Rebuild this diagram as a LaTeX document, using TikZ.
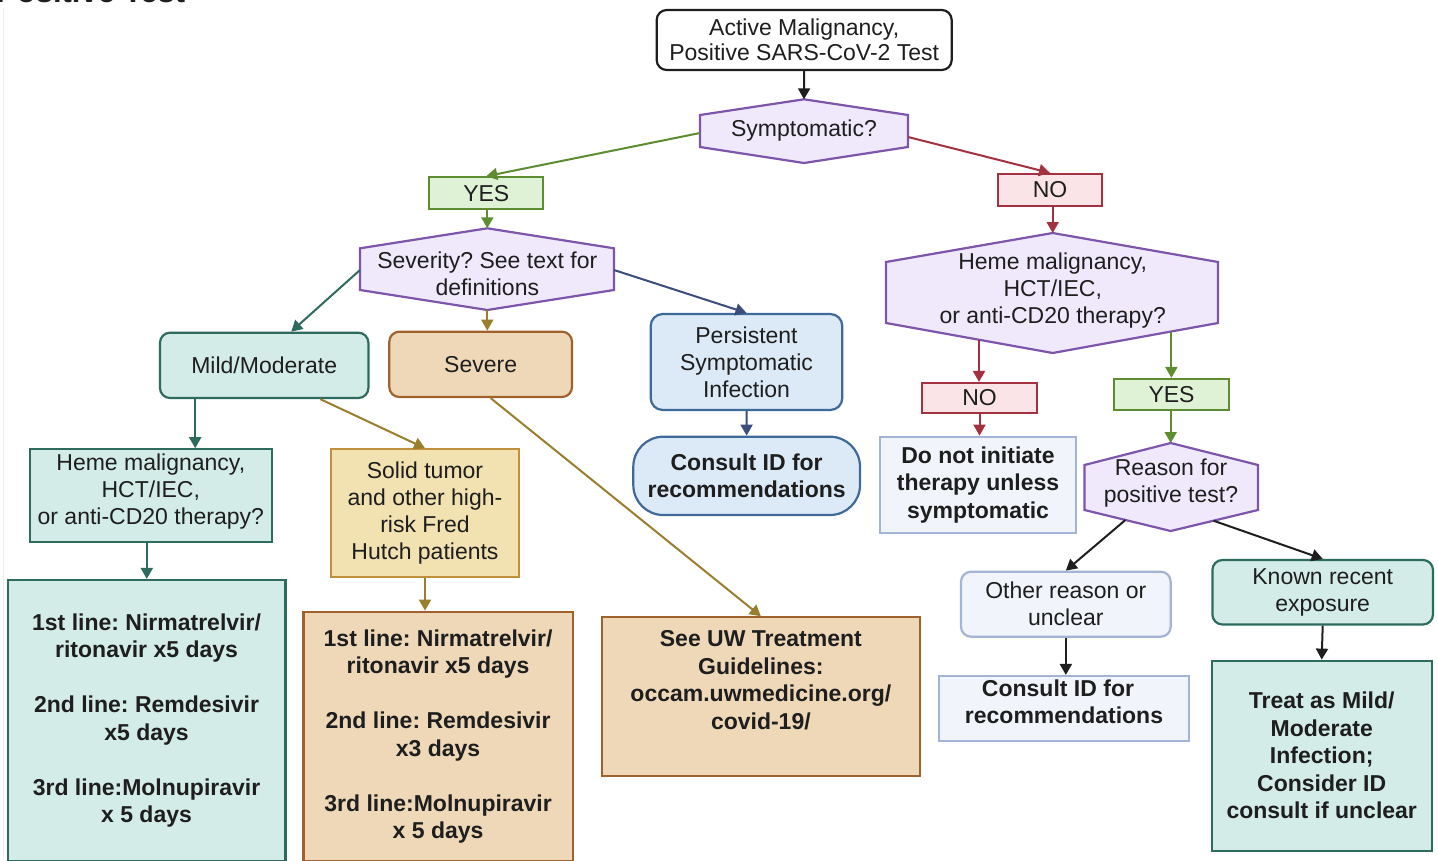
\documentclass[tikz,border=0pt]{standalone}
\usepackage{fontspec}
\setmainfont{Liberation Sans}
\usetikzlibrary{arrows.meta}
\frenchspacing
\definecolor{tealB}{HTML}{2E6B5F}
\definecolor{tealF}{HTML}{D3ECE7}
\definecolor{brownB}{HTML}{A0622D}
\definecolor{brownF}{HTML}{EED8B8}
\definecolor{goldB}{HTML}{C0903C}
\definecolor{goldF}{HTML}{F2E2B2}
\definecolor{goldA}{HTML}{9B7D2E}
\definecolor{blueB}{HTML}{3D6A99}
\definecolor{blueF}{HTML}{DCEAF8}
\definecolor{navyA}{HTML}{3B4D7C}
\definecolor{greyB}{HTML}{A3B4D4}
\definecolor{greyF}{HTML}{F1F4FA}
\definecolor{greenB}{HTML}{5E8C31}
\definecolor{greenF}{HTML}{DFF2D6}
\definecolor{redB}{HTML}{A33140}
\definecolor{redF}{HTML}{FBE4E8}
\definecolor{purpB}{HTML}{7D55AA}
\definecolor{purpF}{HTML}{EFE9FB}
\definecolor{ink}{HTML}{1E1E1E}
\begin{document}
\begin{tikzpicture}[x=1pt,y=-1pt,
  reg/.style={font=\fontsize{23}{27}\selectfont},
  bld/.style={font=\fontsize{23}{27.5}\selectfont\bfseries},
  corners/.style n args={4}{at={({(#1+#3)/2},{(#2+#4)/2})},minimum width={(#3)-(#1)},minimum height={(#4)-(#2)}},
  box/.style={draw,line width=2.2pt,inner sep=0pt,align=center,text=ink},
  tealbox/.style={box,draw=tealB,fill=tealF},
  brownbox/.style={box,draw=brownB,fill=brownF},
  goldbox/.style={box,draw=goldB,fill=goldF},
  bluebox/.style={box,draw=blueB,fill=blueF},
  greybox/.style={box,draw=greyB,fill=greyF},
  yesbox/.style={box,reg,draw=greenB,fill=greenF},
  nobox/.style={box,reg,draw=redB,fill=redF},
  hexd/.style={draw=purpB,fill=purpF,line width=2.2pt,line join=miter},
  htext/.style={reg,align=center,inner sep=0pt,text=ink},
  arr/.style={line width=2pt,-{Triangle[length=11pt,width=12pt]}},
]
\fill[white] (0,0) rectangle (1438,860);
\path[use as bounding box] (0,0) rectangle (1438,860);
\draw[black!7,line width=1pt] (3.5,8) -- (3.5,860);
\node[anchor=base west,font=\fontsize{31}{31}\selectfont\bfseries,inner sep=0pt,text=ink] (title) at (-4,2) {Positive Test};

% boxes
\node[box,font=\fontsize{23}{25}\selectfont,draw=ink,fill=white,rounded corners=10pt,corners={656.7}{10}{951.7}{70}] (start) {Active Malignancy,\\Positive SARS-CoV-2 Test};
\node[yesbox,corners={429.3}{177.3}{543.3}{209.3}] (yes1) {YES};
\node[nobox,corners={998}{174}{1102}{205.7}] (no1) {NO};
\node[tealbox,reg,rounded corners=10pt,corners={160}{332.7}{368.4}{398}] (mild) {Mild/Moderate};
\node[brownbox,reg,rounded corners=10pt,corners={389.3}{331.7}{572}{397}] (severe) {Severe};
\node[bluebox,reg,rounded corners=12pt,corners={650.7}{314}{842.3}{410}] (pers) {Persistent\\Symptomatic\\Infection};
\node[bluebox,bld,rounded corners=30pt,corners={633.3}{436.7}{860}{515}] (cons1) {Consult ID for\\recommendations};
\node[tealbox,reg,corners={29.6}{449.3}{272}{542.3}] (hemeL) {Heme malignancy,\\HCT/IEC,\\or anti-CD20 therapy?\\[-14pt]\mbox{}};
\node[goldbox,reg,corners={331}{449.3}{519}{577.3}] (solid) {Solid tumor\\and other high-\\risk Fred\\Hutch patients};
\node[tealbox,bld,corners={7.7}{580}{285.4}{861}] (lb) {1st line: Nirmatrelvir/\\ritonavir x5 days\\[27.5pt]2nd line: Remdesivir\\x5 days\\[27.5pt]3rd line:Molnupiravir\\x 5 days};
\node[brownbox,bld,corners={303.4}{611.7}{572.8}{861}] (mb) {1st line: Nirmatrelvir/\\ritonavir x5 days\\[27.5pt]2nd line: Remdesivir\\x3 days\\[27.5pt]3rd line:Molnupiravir\\x 5 days};
\node[brownbox,bld,corners={601.7}{617.3}{920}{775.7}] (uw) {See UW Treatment\\Guidelines:\\occam.uwmedicine.org/\\covid-19/\\[6pt]\mbox{}};
\node[nobox,corners={922}{383}{1037}{413}] (no2) {NO};
\node[yesbox,corners={1114}{379}{1229}{410}] (yes2) {YES};
\node[greybox,bld,corners={880}{436.7}{1076}{532.7}] (donot) {Do not initiate\\therapy unless\\symptomatic};
\node[greybox,reg,rounded corners=10pt,corners={961}{571.7}{1170.7}{636.7}] (other) {Other reason or\\unclear};
\node[tealbox,reg,rounded corners=10pt,corners={1212.4}{560}{1433}{624.5}] (known) {Known recent\\exposure};
\node[greybox,bld,corners={939}{676}{1189}{741}] (cons2) {Consult ID for\hspace*{12pt}\\recommendations\hspace*{12pt}\\[-13.5pt]\mbox{}};
\node[tealbox,bld,corners={1211.7}{660.7}{1431.7}{850.7}] (treat) {Treat as Mild/\\Moderate\\Infection;\\Consider ID\\consult if unclear};

% hexagons
\draw[hexd] (700,115) -- (804,99.3) -- (908,115) -- (908,147) -- (804,163) -- (700,147) -- cycle;
\node[htext] (symT) at (804,131) {Symptomatic?};
\draw[hexd] (360,248.3) -- (487.3,228.3) -- (614,248.3) -- (614,290) -- (487.3,310) -- (360,290) -- cycle;
\node[htext] (sevT) at (487.3,273.5) {Severity? See text for\\definitions};
\draw[hexd] (886,262) -- (1052.7,233) -- (1218,262) -- (1218,323) -- (1052.7,353) -- (886,323) -- cycle;
\node[htext] (hrT) at (1052.7,291) {Heme malignancy,\\HCT/IEC,\\or anti-CD20 therapy?};
\draw[hexd] (1084.5,465) -- (1170.7,443) -- (1258,465) -- (1258,510) -- (1170.7,531) -- (1084.5,510) -- cycle;
\node[htext] (rsT) at (1171,483) {Reason for\\positive test?};

\coordinate (sym-t) at (804,99.3);
\coordinate (sym-l) at (700,133);
\coordinate (sym-r) at (908,137);
\coordinate (sev-t) at (487.3,228.3);
\coordinate (sev-l) at (360,270);
\coordinate (sev-r) at (614,270);
\coordinate (sev-b) at (487.3,310);
\coordinate (hr-t) at (1052.7,233);
\coordinate (hr-bl) at (979,339.7);
\coordinate (hr-br) at (1171.4,331.5);
\coordinate (rs-t) at (1170.7,443);
\coordinate (rs-bl) at (1125.4,520);
\coordinate (rs-br) at (1213.5,520.7);

% connectors
\draw[arr,ink] (start.south) -- (sym-t);
\draw[arr,greenB] (sym-l) -- (yes1.north);
\draw[arr,redB] (sym-r) -- (no1.north);
\draw[arr,greenB] (yes1.south -| sev-t) -- (sev-t);
\draw[arr,redB] (no1.south -| hr-t) -- (hr-t);
\draw[arr,tealB] (sev-l) -- ([xshift=27pt]mild.north);
\draw[arr,goldA] (sev-b) -- (sev-b |- severe.north);
\draw[arr,navyA] (sev-r) -- (pers.north);
\draw[arr,navyA] (pers.south) -- (cons1.north);
\draw[arr,tealB] ([xshift=-69pt]mild.south) -- ([xshift=-69pt]mild.south |- hemeL.north);
\draw[arr,goldA] ([xshift=56pt]mild.south) -- (solid.north);
\draw[arr,tealB] ([xshift=-4pt]hemeL.south) -- ([xshift=-4pt]hemeL.south |- lb.north);
\draw[arr,goldA] ([xshift=10pt]severe.south) -- (uw.north);
\draw[arr,goldA] (solid.south) -- (solid.south |- mb.north);
\draw[arr,redB] (hr-bl) -- (hr-bl |- no2.north);
\draw[arr,greenB] (hr-br) -- (hr-br |- yes2.north);
\draw[arr,redB] (no2.south) -- (no2.south |- donot.north);
\draw[arr,greenB] (yes2.south -| rs-t) -- (rs-t);
\draw[arr,ink] (rs-bl) -- (other.north);
\draw[arr,ink] (rs-br) -- (known.north);
\draw[arr,ink] (other.south) -- (other.south |- cons2.north);
\draw[arr,ink] (known.south) -- (treat.north);
\end{tikzpicture}
\end{document}
